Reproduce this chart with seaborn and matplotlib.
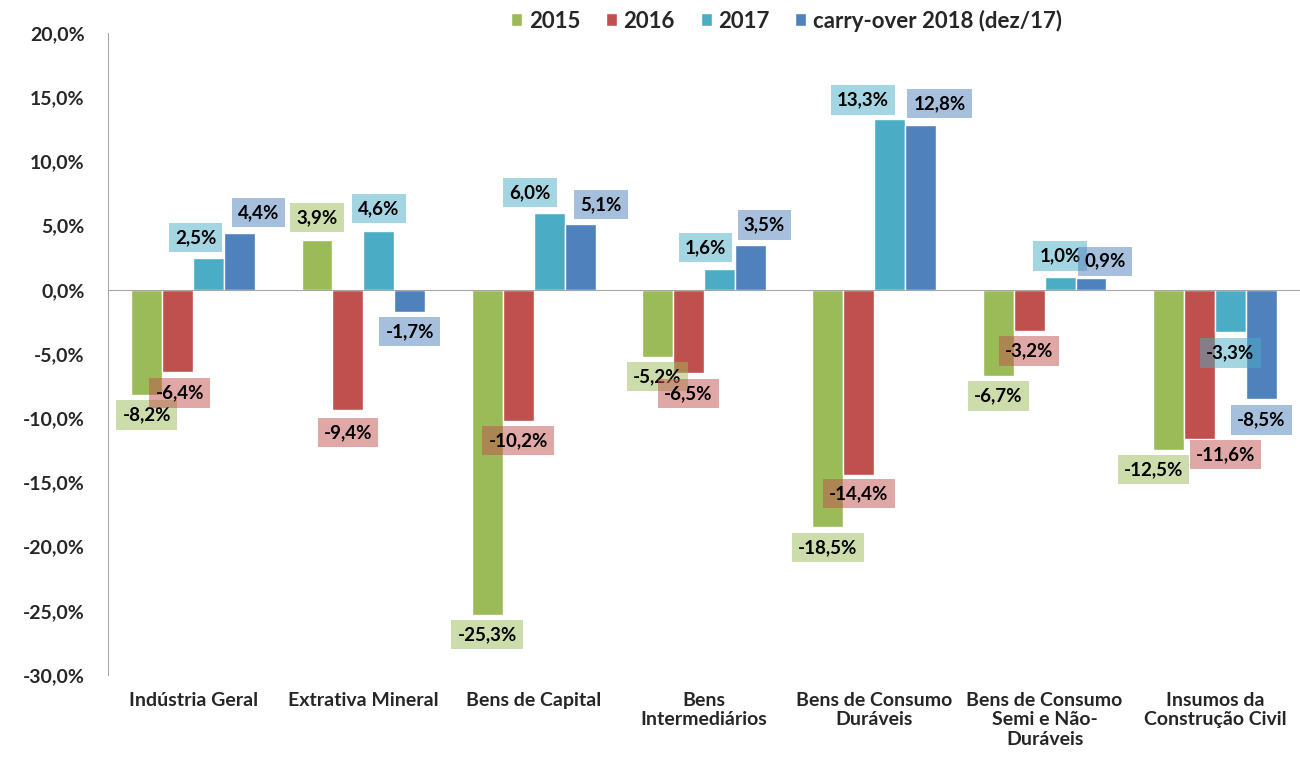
import matplotlib
matplotlib.use("Agg")
import matplotlib.pyplot as plt
import seaborn as sns
import pandas as pd

categories = ["Indústria Geral", "Extrativa Mineral", "Bens de Capital",
              "Bens\nIntermediários", "Bens de Consumo\nDuráveis",
              "Bens de Consumo\nSemi e Não-\nDuráveis", "Insumos da\nConstrução Civil"]
series = ["2015", "2016", "2017", "carry-over 2018 (dez/17)"]
v2015 = [-8.2, 3.9, -25.3, -5.2, -18.5, -6.7, -12.5]
v2016 = [-6.4, -9.4, -10.2, -6.5, -14.4, -3.2, -11.6]
v2017 = [2.5, 4.6, 6.0, 1.6, 13.3, 1.0, -3.3]
vcarry = [4.4, -1.7, 5.1, 3.5, 12.8, 0.9, -8.5]
colors = ["#9BBB59", "#C0504D", "#4BACC6", "#4F81BD"]

# deslocamento horizontal dos rótulos (pixels), como no original
label_dx = [[0, 0, 0, 0, 0, 0, -15],
            [2, 0, 0, 0, 0, 0, 26],
            [-13, 0, -19, -14, -27, 0, 0],
            [19, 0, 21, 14, 19, 14, 0]]
label_dy = [[20, 22, 20, 20, 20, 20, 19],
            [21, 22, 20, 20, 19, 20, 16],
            [20, 22, 20, 22, 19, 21, 21],
            [21, 20, 20, 20, 22, 17, 21]]

rows = []
for s, vals in zip(series, [v2015, v2016, v2017, vcarry]):
    for c, v in zip(categories, vals):
        rows.append({"cat": c, "serie": s, "valor": v})
df = pd.DataFrame(rows)

sns.set_style("white")
plt.rcParams["font.family"] = ["Lato", "DejaVu Sans"]
plt.rcParams["font.weight"] = "bold"

fig = plt.figure(figsize=(13, 7.61), dpi=100)
ax = fig.add_axes([108 / 1300, 86 / 761, 1192 / 1300, 642 / 761])

sns.barplot(data=df, x="cat", y="valor", hue="serie", palette=colors,
            width=0.727, gap=0, saturation=1, ax=ax, legend=True)

ax.set_ylim(-30, 20)
ax.set_xlim(-0.5, -0.5 + 1192 / 171.8)
yt = list(range(-30, 21, 5))
ax.set_yticks(yt)
ax.set_yticklabels([f"{v:.1f}%".replace(".", ",") for v in yt],
                   fontsize=14, fontweight="bold")
ax.tick_params(axis="y", length=6, color="#A6A6A6", pad=11, direction="out")
ax.set_xlabel("")
ax.set_ylabel("")

for side in ["top", "right"]:
    ax.spines[side].set_visible(False)
ax.spines["left"].set_color("#A6A6A6")
ax.spines["bottom"].set_position(("data", 0))
ax.spines["bottom"].set_color("#A6A6A6")
ax.set_xticks([i + 0.5 for i in range(len(categories))])
ax.set_xticklabels([])
ax.tick_params(axis="x", direction="inout", length=12, color="#A6A6A6")

for i, c in enumerate(categories):
    ax.text(i, -0.026, c, transform=ax.get_xaxis_transform(), ha="center",
            va="top", fontsize=14, fontweight="bold", linespacing=1.2)

# rótulos de dados
for k, (cont, col) in enumerate(zip(ax.containers, colors)):
    for j, bar in enumerate(cont):
        v = bar.get_height()
        x = bar.get_x() + bar.get_width() / 2
        dy = label_dy[k][j] if v >= 0 else -label_dy[k][j]
        ax.annotate(f"{v:.1f}%".replace(".", ","), (x, v), xytext=(label_dx[k][j], dy),
                    textcoords="offset pixels", ha="center", va="center",
                    fontsize=13.5, fontweight="bold", color="black",
                    bbox=dict(boxstyle="square,pad=0.33", fc=col, ec="none", alpha=0.5))

handles, labels = ax.get_legend_handles_labels()
ax.legend(handles, labels, loc="center left", bbox_to_anchor=(500 / 1300, 0.973),
          bbox_transform=fig.transFigure, ncol=4, frameon=False, borderpad=0,
          prop={"size": 16, "weight": "bold"}, handlelength=0.5, handleheight=0.5,
          columnspacing=1.15, handletextpad=0.3)

fig.savefig("out.png", dpi=100)
